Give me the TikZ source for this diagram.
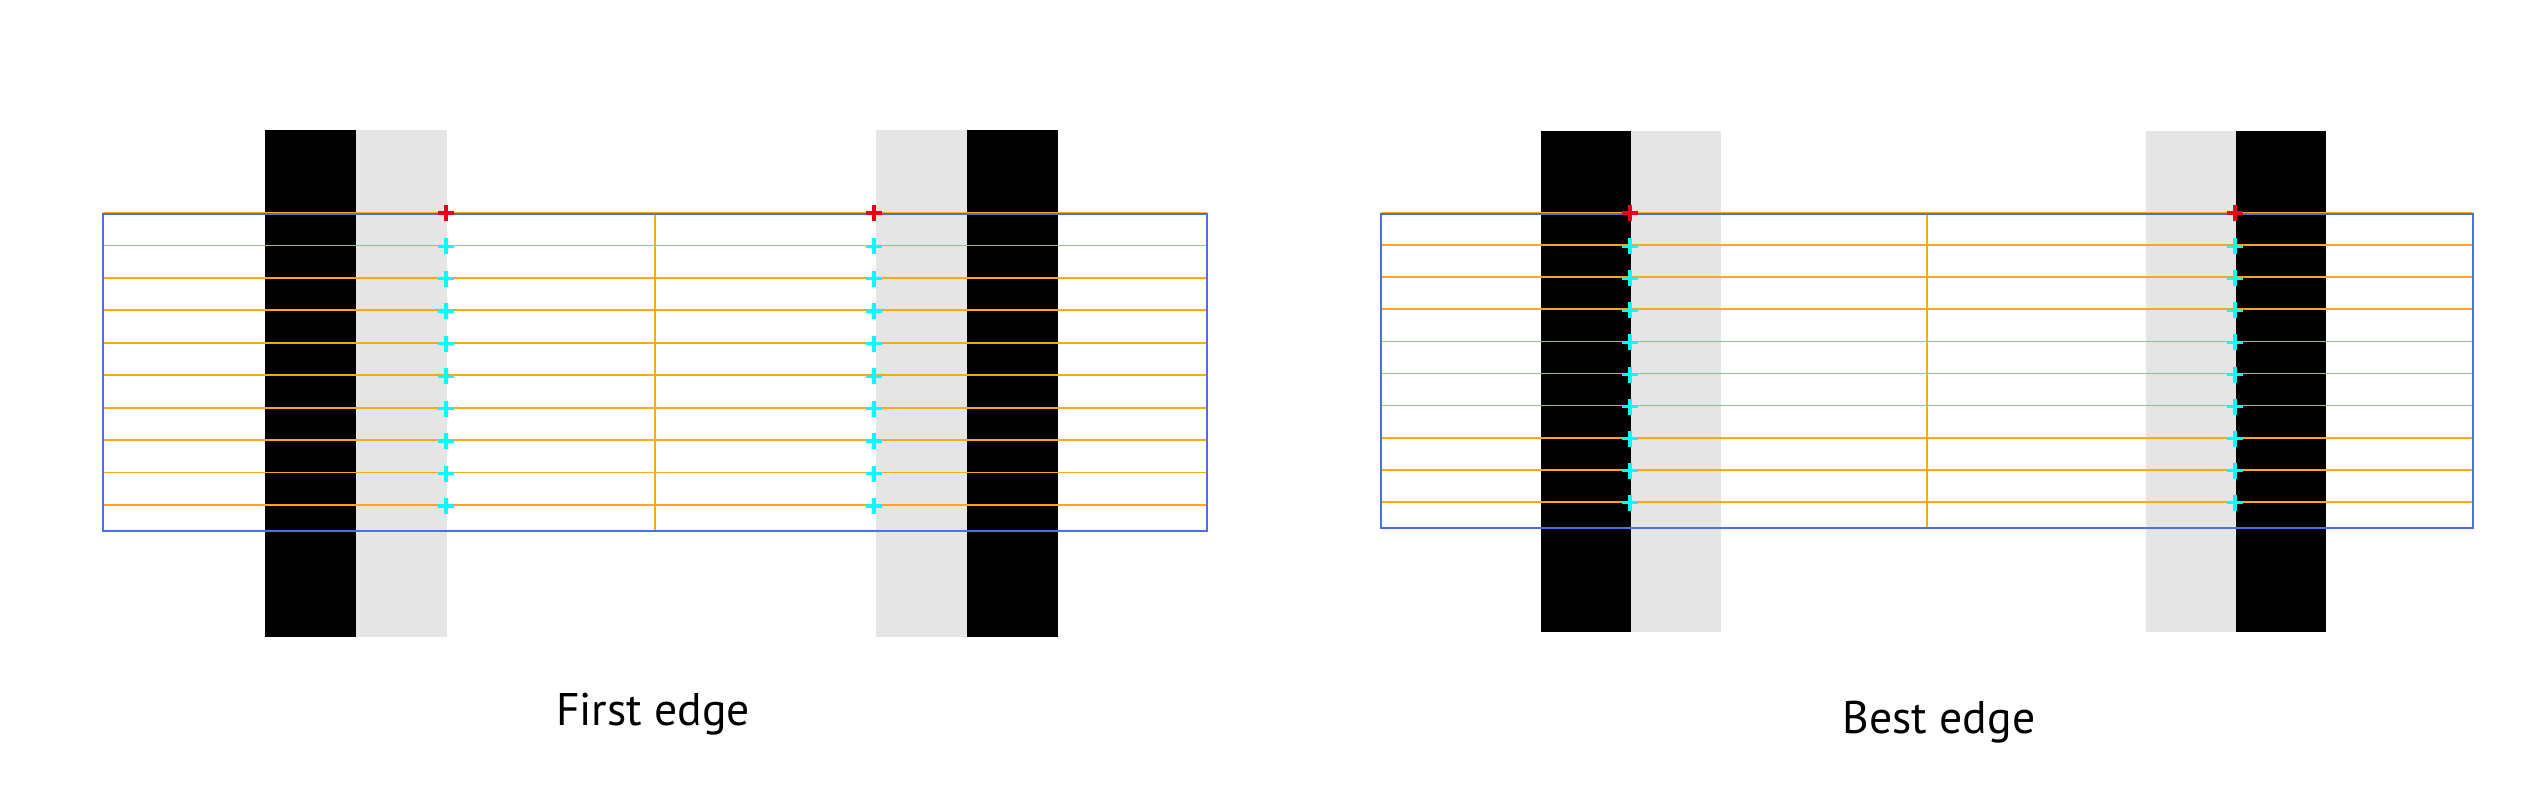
\documentclass[tikz,border=0pt]{standalone}
\usepackage{fontspec}
\setmainfont{PT Sans}
\definecolor{boxblue}{RGB}{74,112,226}
\definecolor{scanorange}{RGB}{255,168,28}
\definecolor{bargrey}{RGB}{229,229,229}
\definecolor{hitcyan}{RGB}{0,255,255}
\definecolor{hitred}{RGB}{235,0,20}
\tikzset{
  scanline/.style={scanorange,line width=0.5pt},
  roibox/.style={boxblue,line width=0.7pt},
  hitmark/.style={line width=0.9pt},
  caption/.style={anchor=base,font=\fontsize{13}{15}\selectfont}
}
\begin{document}
\begin{tikzpicture}[x=0.01cm,y=-0.01cm]
  \useasboundingbox (0,0) rectangle (2546,784);

  % left: first edge
  \fill[black]   (265,130) rectangle (356,637);
  \fill[bargrey] (356,130) rectangle (447,637);
  \fill[bargrey] (876,130) rectangle (967,637);
  \fill[black]   (967,130) rectangle (1058,637);
  \foreach \k in {0,...,9}
    \draw[scanline] (103,{213+\k*32.44}) -- (1207,{213+\k*32.44});
  \draw[scanline] (655,214) -- (655,531);
  \draw[roibox] (103,214) rectangle (1207,531);
  \foreach \xx in {446,874}{
    \draw[hitmark,hitred] (\xx,213) ++(-8,0) -- ++(16,0) ++(-8,-8) -- ++(0,16);
    \foreach \k in {1,...,9}
      \draw[hitmark,hitcyan] (\xx,{214+\k*32.44}) ++(-8,0) -- ++(16,0) ++(-8,-8) -- ++(0,16);
  }
  \node[caption] (firstlabel) at (653,725) {First edge};

  % right: best edge
  \fill[black]   (1541,131) rectangle (1631,632);
  \fill[bargrey] (1631,131) rectangle (1721,632);
  \fill[bargrey] (2146,131) rectangle (2236,632);
  \fill[black]   (2236,131) rectangle (2326,632);
  \foreach \k in {0,...,9}
    \draw[scanline] (1381,{213+\k*32.1}) -- (2473,{213+\k*32.1});
  \draw[scanline] (1927,214) -- (1927,528);
  \draw[roibox] (1381,214) rectangle (2473,528);
  \foreach \xx in {1630,2235}{
    \draw[hitmark,hitred] (\xx,213) ++(-8,0) -- ++(16,0) ++(-8,-8) -- ++(0,16);
    \foreach \k in {1,...,9}
      \draw[hitmark,hitcyan] (\xx,{214+\k*32.1}) ++(-8,0) -- ++(16,0) ++(-8,-8) -- ++(0,16);
  }
  \node[caption] (bestlabel) at (1939,733) {Best edge};
\end{tikzpicture}
\end{document}
